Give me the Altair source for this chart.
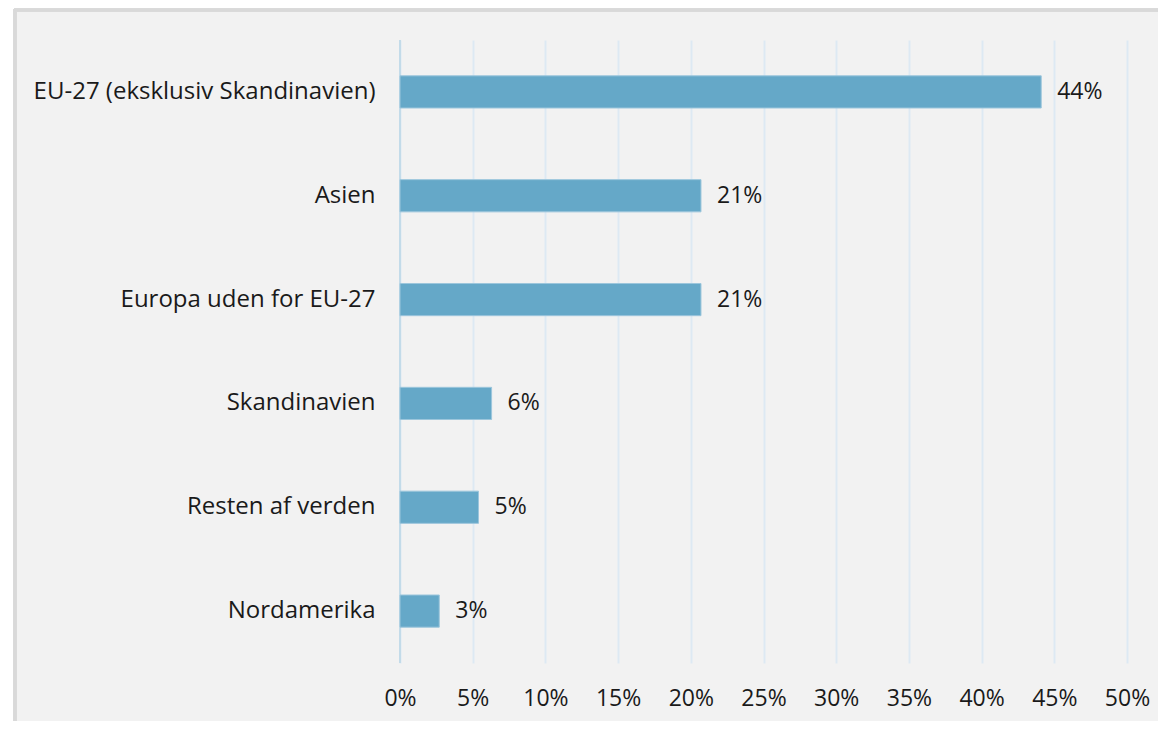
import altair as alt
import pandas as pd

categories = ["EU-27 (eksklusiv Skandinavien)", "Asien", "Europa uden for EU-27",
              "Skandinavien", "Resten af verden", "Nordamerika"]
values = [44.1, 20.7, 20.7, 6.3, 5.4, 2.7]
labels = ["44%", "21%", "21%", "6%", "5%", "3%"]
ticks = [0, 5, 10, 15, 20, 25, 30, 35, 40, 45, 50]

df = pd.DataFrame({"region": categories, "share": values, "label": labels})

W, H = 727, 623
FONT = "Open Sans"

xscale = alt.Scale(domain=[0, 50], nice=False)
yscale = alt.Scale(domain=categories, paddingInner=0.69, paddingOuter=0.345)

base = alt.Chart(df)

# decoration: white margins and panel border
white_left = base.mark_rect(color="white").encode(
    x=alt.value(-392), x2=alt.value(-386), y=alt.value(-40), y2=alt.value(H + 100))
white_top = base.mark_rect(color="white").encode(
    x=alt.value(-392), x2=alt.value(W + 60), y=alt.value(-40), y2=alt.value(-31))
border_left = base.mark_rule(color="#d9d9d9", strokeWidth=3).encode(
    x=alt.value(-385), y=alt.value(-31), y2=alt.value(H + 100))
border_top = base.mark_rule(color="#d9d9d9", strokeWidth=3).encode(
    x=alt.value(-386), x2=alt.value(W + 60), y=alt.value(-30))

bars = base.mark_bar(color="#65a8c8", stroke="#9cc6dc", strokeWidth=1).encode(
    x=alt.X("share:Q", scale=xscale,
            axis=alt.Axis(values=ticks, labelExpr="datum.value + '%'", title=None,
                          domain=False, ticks=False, grid=True, gridColor="#dde9f3",
                          gridWidth=2, labelFont=FONT, labelFontSize=23,
                          labelColor="#1a1a1a", labelPadding=24, labelFlush=False,
                          labelOverlap=False)),
    y=alt.Y("region:N", scale=yscale, sort=categories,
            axis=alt.Axis(title=None, domain=False, ticks=False, labelFont=FONT,
                          labelFontSize=24, labelColor="#1a1a1a", labelPadding=25,
                          labelLimit=500)),
)

zero = base.mark_rule(color="#c3dbe9", strokeWidth=2).encode(
    x=alt.datum(0, scale=xscale), y=alt.value(0), y2=alt.value(H))

text = base.mark_text(align="left", baseline="middle", dx=16, font=FONT,
                      fontSize=23, color="#1a1a1a").encode(
    x=alt.X("share:Q", scale=xscale),
    y=alt.Y("region:N", scale=yscale, sort=categories),
    text="label:N",
)

chart = alt.layer(white_left, white_top, border_left, border_top, zero, bars, text).properties(
    width=W, height=H,
    background="#f2f2f2",
    autosize=alt.AutoSizeParams(type="none"),
    padding={"left": 392, "top": 32, "right": 31, "bottom": 58},
).configure_view(stroke=None)

chart.save("out.html", embed_options={"renderer": "svg", "actions": False})
